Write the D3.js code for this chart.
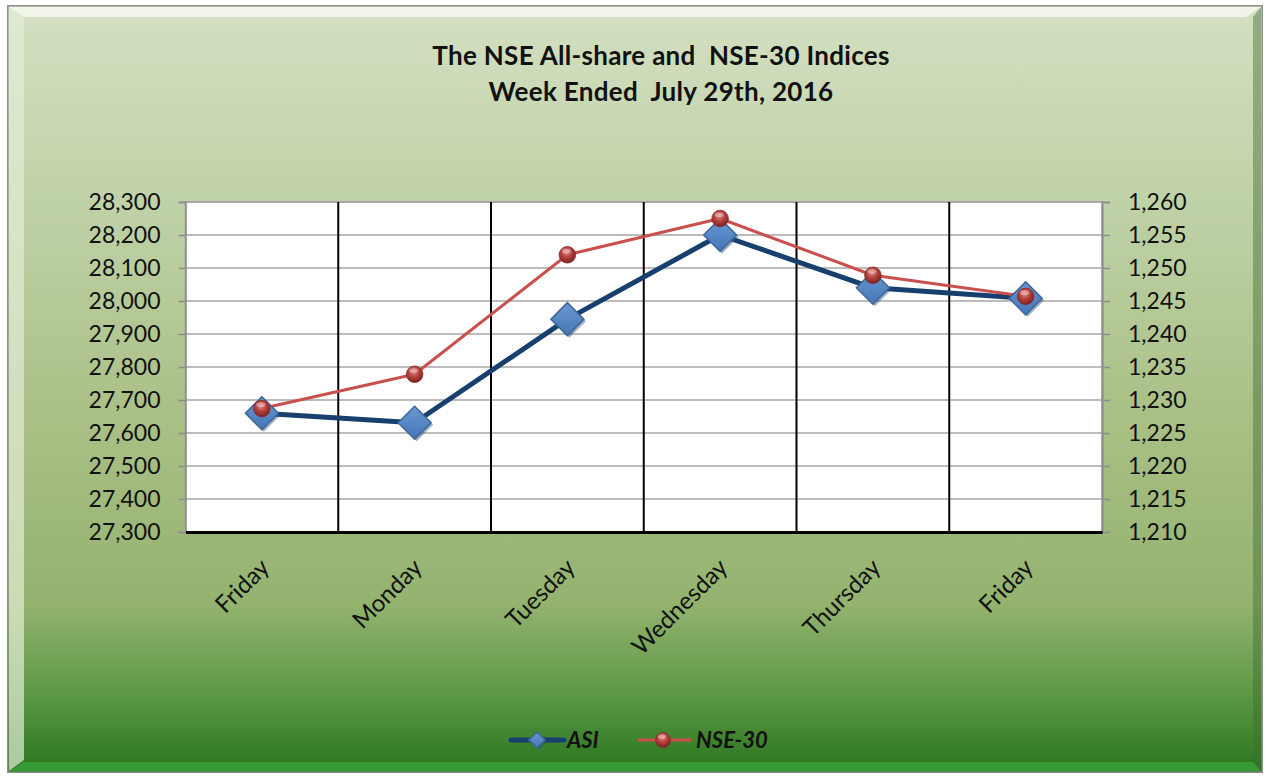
<!DOCTYPE html>
<html><head><meta charset="utf-8">
<script src="https://cdn.jsdelivr.net/npm/d3@7"></script>
<style>html,body{margin:0;padding:0;background:#fff;}svg{display:block;}</style>
</head><body>
<svg id="chart" width="1268" height="776"></svg>
<script>
const categories = ["Friday","Monday","Tuesday","Wednesday","Thursday","Friday"];
const asiValues = [27660, 27631, 27945, 28200, 28040, 28008];
const nse30Values = [1228.7, 1233.9, 1252.0, 1257.5, 1248.9, 1245.7];
const leftTicks = [27300,27400,27500,27600,27700,27800,27900,28000,28100,28200,28300];
const rightTicks = [1210,1215,1220,1225,1230,1235,1240,1245,1250,1255,1260];
const titleLines = ["The NSE All-share and  NSE-30 Indices","Week Ended  July 29th, 2016"];
const seriesNames = ["ASI","NSE-30"];

const svg = d3.select("#chart");
const defs = svg.append("defs");

const bg = defs.append("linearGradient").attr("id","bg").attr("x1",0).attr("y1",0).attr("x2",0).attr("y2",1);
[[0,"#d4e0c2"],[0.3,"#bccfa2"],[0.55,"#a9bf84"],[0.78,"#94b36f"],[0.9,"#5c9845"],[1,"#2a751f"]].forEach(s=>bg.append("stop").attr("offset",s[0]).attr("stop-color",s[1]));
const dg = defs.append("linearGradient").attr("id","dg").attr("x1",0).attr("y1",0).attr("x2",0).attr("y2",1);
dg.append("stop").attr("offset",0).attr("stop-color","#6a98d2");
dg.append("stop").attr("offset",1).attr("stop-color","#4476b6");
const rg = defs.append("radialGradient").attr("id","rg").attr("cx","0.45").attr("cy","0.35").attr("r","0.65");
rg.append("stop").attr("offset",0).attr("stop-color","#e28a86");
rg.append("stop").attr("offset",0.5).attr("stop-color","#b3403c");
rg.append("stop").attr("offset",1).attr("stop-color","#7a2220");

// frame
svg.append("rect").attr("x",7).attr("y",5).attr("width",1256).attr("height",768).attr("fill","#8e8e8e");
svg.append("rect").attr("x",8.5).attr("y",6.5).attr("width",1253).attr("height",765).attr("fill","url(#bg)");
svg.append("polygon").attr("points","9,7 1261,7 1246,17 24,17").attr("fill","#f4f8ee").attr("opacity",0.85);
svg.append("polygon").attr("points","9,7 24,17 24,760 9,771").attr("fill","#e3ecd6").attr("opacity",0.7);
svg.append("polygon").attr("points","1261,7 1261,771 1253,760 1253,17").attr("fill","#3f6f2e").attr("opacity",0.45);
svg.append("polygon").attr("points","9,771 24,762 1253,762 1261,771").attr("fill","#3aa23a").attr("opacity",0.8);

const m = {left:185.5, right:1102, top:202, bottom:532};
const x = d3.scaleBand().domain(d3.range(categories.length)).range([m.left,m.right]).padding(0);
const yL = d3.scaleLinear().domain([27300,28300]).range([m.bottom,m.top]);
const yR = d3.scaleLinear().domain([1210,1260]).range([m.bottom,m.top]);

svg.append("rect").attr("x",m.left+2).attr("y",m.top+2).attr("width",m.right-m.left).attr("height",m.bottom-m.top).attr("fill","#7f9466").attr("opacity",0.4);
svg.append("rect").attr("x",m.left).attr("y",m.top).attr("width",m.right-m.left).attr("height",m.bottom-m.top).attr("fill","#fff").attr("stroke","#9a9a9a").attr("stroke-width",1.5);

svg.append("g").selectAll("line").data(leftTicks.slice(1)).join("line")
  .attr("x1",m.left).attr("x2",m.right).attr("y1",d=>yL(d)).attr("y2",d=>yL(d))
  .attr("stroke","#a6a6a6").attr("stroke-width",1.5);
svg.append("g").selectAll("line").data(d3.range(1,categories.length)).join("line")
  .attr("x1",d=>x(d)).attr("x2",d=>x(d)).attr("y1",m.top).attr("y2",m.bottom)
  .attr("stroke","#000").attr("stroke-width",2);

const fontFam = "Lato, 'Open Sans', sans-serif";
const la = svg.append("g").attr("transform",`translate(${m.left},0)`)
  .call(d3.axisLeft(yL).tickValues(leftTicks).tickFormat(d3.format(",")).tickSize(7).tickPadding(18));
la.select(".domain").attr("stroke","#8c8c8c").attr("stroke-width",1.5);
la.selectAll(".tick line").attr("stroke","#8c8c8c").attr("stroke-width",1.5);
la.selectAll("text").attr("font-family",fontFam).attr("font-size",23).attr("fill","#111");

const ra = svg.append("g").attr("transform",`translate(${m.right},0)`)
  .call(d3.axisRight(yR).tickValues(rightTicks).tickFormat(d3.format(",")).tickSize(8).tickPadding(18));
ra.select(".domain").attr("stroke","#8c8c8c").attr("stroke-width",1.5);
ra.selectAll(".tick line").attr("stroke","#8c8c8c").attr("stroke-width",1.5);
ra.selectAll("text").attr("font-family",fontFam).attr("font-size",23).attr("fill","#111");

const ba = svg.append("g").attr("transform",`translate(0,${m.bottom})`)
  .call(d3.axisBottom(x).tickSize(0).tickFormat(i=>categories[i]));
ba.select(".domain").attr("stroke","#000").attr("stroke-width",3);
ba.selectAll("text").attr("font-family",fontFam).attr("font-size",24).attr("fill","#111")
  .attr("text-anchor","end").attr("dy",0)
  .attr("transform","translate(9,37) rotate(-45)")
  .attr("y",0).attr("x",0);

const cx = i => x(i)+x.bandwidth()/2;
svg.append("path").datum(asiValues).attr("fill","none").attr("stroke","#17406e").attr("stroke-width",5).attr("stroke-linejoin","round")
  .attr("d",d3.line().x((d,i)=>cx(i)).y(d=>yL(d)));
svg.append("path").datum(nse30Values).attr("fill","none").attr("stroke","#c9504c").attr("stroke-width",3).attr("stroke-linejoin","round")
  .attr("d",d3.line().x((d,i)=>cx(i)).y(d=>yR(d)));

function diamond(g,xx,yy,s){
  g.append("path").attr("d",`M${xx+2},${yy-s+2}L${xx+s+2},${yy+2}L${xx+2},${yy+s+2}L${xx-s+2},${yy+2}Z`).attr("fill","#2b4d78").attr("opacity",0.45);
  g.append("path").attr("d",`M${xx},${yy-s}L${xx+s},${yy}L${xx},${yy+s}L${xx-s},${yy}Z`).attr("fill","url(#dg)").attr("stroke","#3d6698").attr("stroke-width",1.5);
}
function sphere(g,xx,yy,r){
  g.append("circle").attr("cx",xx).attr("cy",yy).attr("r",r).attr("fill","url(#rg)").attr("stroke","#8a2b28").attr("stroke-width",0.8);
  g.append("ellipse").attr("cx",xx-1).attr("cy",yy-r*0.45).attr("rx",r*0.55).attr("ry",r*0.28).attr("fill","#fff").attr("opacity",0.35);
}
const mk = svg.append("g");
asiValues.forEach((v,i)=>diamond(mk,cx(i),yL(v),16.5));
nse30Values.forEach((v,i)=>sphere(mk,cx(i),yR(v),8.3));

svg.append("g").selectAll("text").data(titleLines).join("text")
  .attr("x",661).attr("y",(d,i)=>65+i*36).attr("text-anchor","middle")
  .attr("font-family",fontFam).attr("font-weight","bold").attr("font-size",26).attr("letter-spacing",0.3).attr("fill","#111")
  .style("white-space","pre").text(d=>d);

const lg = svg.append("g");
lg.append("line").attr("x1",511).attr("x2",564).attr("y1",740).attr("y2",740).attr("stroke","#17406e").attr("stroke-width",5).attr("stroke-linecap","round");
diamond(lg,537,740,8);
lg.append("text").attr("x",567).attr("y",748).attr("font-family",fontFam).attr("font-weight","bold").attr("font-style","italic").attr("font-size",22).attr("fill","#111").text(seriesNames[0]);
lg.append("line").attr("x1",638).attr("x2",691).attr("y1",740).attr("y2",740).attr("stroke","#c9504c").attr("stroke-width",3);
sphere(lg,663,740,7.5);
lg.append("text").attr("x",696).attr("y",748).attr("font-family",fontFam).attr("font-weight","bold").attr("font-style","italic").attr("font-size",22).attr("fill","#111").text(seriesNames[1]);
</script>
</body></html>
